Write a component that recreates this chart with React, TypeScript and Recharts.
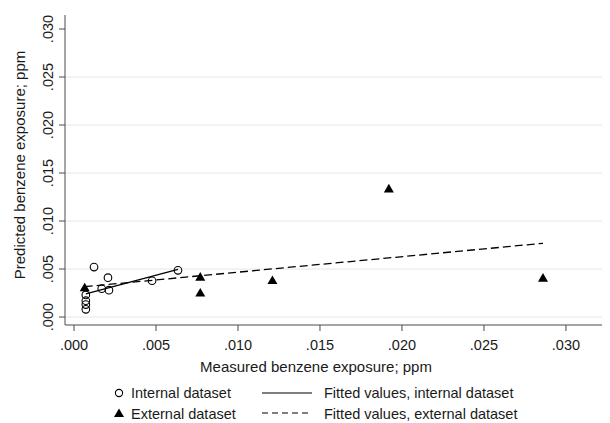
import React from 'react';
import { ScatterChart, Scatter, XAxis, YAxis, ReferenceLine } from 'recharts';

// values (ppm)
const INTERNAL = [
  { x: 0.00072, y: 0.0023 },
  { x: 0.00072, y: 0.0017 },
  { x: 0.00072, y: 0.0013 },
  { x: 0.00072, y: 0.0008 },
  { x: 0.00122, y: 0.0052 },
  { x: 0.00169, y: 0.00295 },
  { x: 0.00207, y: 0.0041 },
  { x: 0.00213, y: 0.0028 },
  { x: 0.00476, y: 0.00378 },
  { x: 0.00634, y: 0.00486 },
];

const EXTERNAL = [
  { x: 0.00065, y: 0.0031 },
  { x: 0.0077, y: 0.0042 },
  { x: 0.0077, y: 0.00255 },
  { x: 0.0121, y: 0.00385 },
  { x: 0.0192, y: 0.0134 },
  { x: 0.0286, y: 0.0041 },
];

const INTERNAL_FIT = [
  { x: 0.00072, y: 0.0024 },
  { x: 0.00634, y: 0.00497 },
];

const EXTERNAL_FIT = [
  { x: 0.00065, y: 0.00316 },
  { x: 0.0286, y: 0.00768 },
];

const X_TICKS = [0, 0.005, 0.01, 0.015, 0.02, 0.025, 0.03];
const Y_TICKS = [0, 0.005, 0.01, 0.015, 0.02, 0.025, 0.03];
const Y_GRID = [0, 0.005, 0.01, 0.015, 0.02, 0.025];

const FONT = '"Liberation Sans", Arial, sans-serif';
const TEXT = '#1a1a1a';
const AXIS = '#4a4a4a';

const fmt = (v: number) => v.toFixed(3).replace(/^0/, '');

const XTick = ({ x, payload }: any) => (
  <text x={x} y={342} textAnchor="middle" fontSize={14.5} fontFamily={FONT} fill={TEXT}>
    {fmt(payload.value)}
  </text>
);

const YTick = ({ y, payload }: any) => (
  <text
    x={45}
    y={y}
    transform={`rotate(-90 45 ${y})`}
    textAnchor="middle"
    fontSize={14.5}
    fontFamily={FONT}
    fill={TEXT}
  >
    {fmt(payload.value)}
  </text>
);

const Hollow = ({ cx, cy }: any) => (
  <circle cx={cx} cy={cy} r={3.8} fill="none" stroke="#000" strokeWidth={1.1} />
);

const Tri = ({ cx, cy }: any) => (
  <path d={`M${cx} ${cy - 4.6} L${cx + 5} ${cy + 4} L${cx - 5} ${cy + 4} Z`} fill="#000" />
);

const NoDot = () => <g />;

// titles and legend sit on top of the chart
function Overlay() {
  const t = { fontSize: 14.5, fontFamily: FONT, fill: TEXT };
  return (
    <svg width={600} height={415} style={{ position: 'absolute', left: 0, top: 0, pointerEvents: 'none' }}>
      <text x={17} y={157} transform="rotate(-90 17 157)" textAnchor="middle" {...t} fontSize={15}>
        Predicted benzene exposure; ppm
      </text>
      <text x={308} y={364} textAnchor="middle" {...t} fontSize={15}>
        Measured benzene exposure; ppm
      </text>

      <circle cx={111} cy={385} r={3.6} fill="none" stroke="#000" strokeWidth={1.1} />
      <text x={123} y={390} {...t}>Internal dataset</text>
      <path d="M111 400.5 L116 409 L106 409 Z" fill="#000" />
      <text x={123} y={411} {...t}>External dataset</text>
      <line x1={254} x2={304} y1={385} y2={385} stroke="#000" strokeWidth={1.2} />
      <text x={316} y={390} {...t}>Fitted values, internal dataset</text>
      <line x1={254} x2={304} y1={405} y2={405} stroke="#000" strokeWidth={1.2} strokeDasharray="6 4" />
      <text x={316} y={411} {...t}>Fitted values, external dataset</text>
    </svg>
  );
}

export default function App() {
  return (
    <div style={{ position: 'relative', width: 600, height: 415 }}>
      <ScatterChart width={600} height={415} margin={{ top: 7, right: 5, left: 0, bottom: 0 }}>
        <XAxis
          type="number"
          dataKey="x"
          domain={[-0.00055, 0.03226]}
          ticks={X_TICKS}
          allowDataOverflow
          height={98}
          tickSize={6}
          tick={<XTick />}
          axisLine={{ stroke: AXIS }}
          tickLine={{ stroke: AXIS }}
        />
        <YAxis
          type="number"
          dataKey="y"
          domain={[-0.00083, 0.03146]}
          ticks={Y_TICKS}
          allowDataOverflow
          width={57}
          tickSize={6}
          tick={<YTick />}
          axisLine={{ stroke: AXIS }}
          tickLine={{ stroke: AXIS }}
        />
        {Y_GRID.map((v) => (
          <ReferenceLine key={v} y={v} stroke="#e6e6e6" strokeWidth={1} />
        ))}
        <Scatter data={INTERNAL} shape={<Hollow />} isAnimationActive={false} />
        <Scatter data={EXTERNAL} shape={<Tri />} isAnimationActive={false} />
        <Scatter
          data={INTERNAL_FIT}
          shape={<NoDot />}
          line={{ stroke: '#000', strokeWidth: 1.3 }}
          isAnimationActive={false}
        />
        <Scatter
          data={EXTERNAL_FIT}
          shape={<NoDot />}
          line={{ stroke: '#000', strokeWidth: 1.3, strokeDasharray: '8 4' }}
          isAnimationActive={false}
        />
      </ScatterChart>
      <Overlay />
    </div>
  );
}
